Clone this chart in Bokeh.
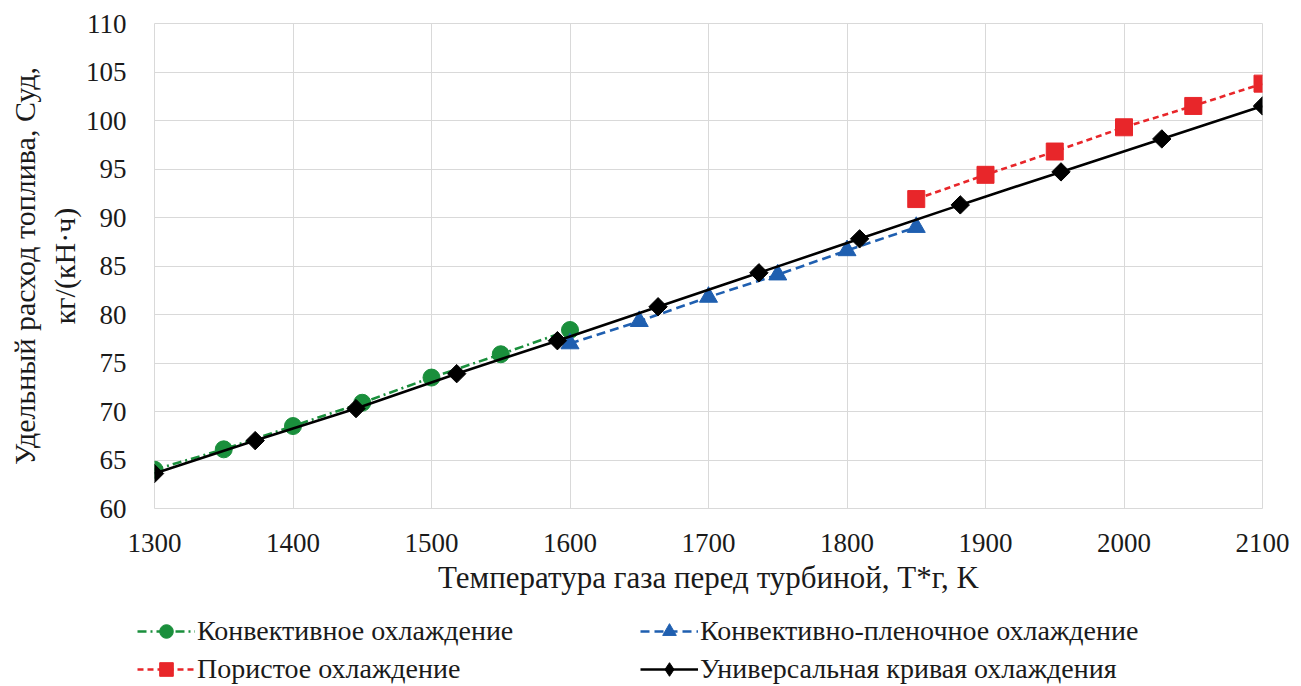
from bokeh.plotting import figure
from bokeh.models import Legend, LegendItem, FixedTicker, Range1d
from bokeh.layouts import column
from bokeh.embed import file_html
from bokeh.resources import INLINE
import math

# Data
conv_x = [1300, 1350, 1400, 1450, 1500, 1550, 1600]
conv_y = [64.0, 66.1, 68.5, 70.9, 73.5, 75.9, 78.4]

film_x = [1600, 1650, 1700, 1750, 1800, 1850]
film_y = [77.0, 79.3, 81.8, 84.1, 86.6, 89.0]

por_x = [1850, 1900, 1950, 2000, 2050, 2100]
por_y = [91.9, 94.4, 96.8, 99.3, 101.5, 103.8]

univ_x = [1300, 1372.7, 1445.5, 1518.2, 1590.9, 1663.6, 1736.4, 1809.1, 1881.8, 1954.5, 2027.3, 2100]
univ_y = [63.6, 67.0, 70.3, 73.9, 77.3, 80.8, 84.3, 87.8, 91.3, 94.7, 98.1, 101.5]

x_ticks = [1300, 1400, 1500, 1600, 1700, 1800, 1900, 2000, 2100]
y_ticks = [60, 65, 70, 75, 80, 85, 90, 95, 100, 105, 110]

labels = ["Конвективное охлаждение", "Конвективно-пленочное охлаждение",
          "Пористое охлаждение", "Универсальная кривая охлаждения"]
x_title = "Температура газа перед турбиной, T*г, K"
y_title1 = "Удельный расход топлива, Суд,"
y_title2 = "кг/(кН·ч)"

FONT = "Liberation Serif"
TXT = "#1a1a1a"

green = "#1a8f3c"
blue = "#1f5fb0"
red = "#e8262a"

styles = [
    dict(color=green, dash="9 4 2 4", marker="circle", size=17, angle=0.0, lmarker="circle", lsize=15),
    dict(color=blue, dash="9 5", marker="triangle", size=18, angle=0.0, lmarker="triangle", lsize=16),
    dict(color=red, dash="6 4", marker="square", size=17, angle=0.0, lmarker="square", lsize=15),
    dict(color="black", dash="solid", marker="square", size=13, angle=math.pi / 4,
         lmarker="diamond", lsize=18),
]
series = [(conv_x, conv_y), (film_x, film_y), (por_x, por_y), (univ_x, univ_y)]

# ---- main chart ----
p = figure(width=1301, height=600, output_backend="svg", toolbar_location=None,
           x_range=Range1d(1300, 2100), y_range=Range1d(60, 110),
           min_border_left=154, min_border_right=39, min_border_top=23, min_border_bottom=92)
p.frame_align = False
p.outline_line_color = "#d9d9d9"
p.background_fill_color = "white"
p.border_fill_color = "white"

for ax in (p.xaxis, p.yaxis):
    ax.axis_line_color = None
    ax.major_tick_line_color = None
    ax.minor_tick_line_color = None
    ax.major_label_text_font = FONT
    ax.major_label_text_font_size = "27px"
    ax.major_label_text_color = TXT
    ax.axis_label_text_font = FONT
    ax.axis_label_text_font_style = "normal"
    ax.axis_label_text_color = TXT
p.xaxis.ticker = FixedTicker(ticks=x_ticks)
p.yaxis.ticker = FixedTicker(ticks=y_ticks)
p.xaxis.major_label_standoff = 19
p.yaxis.major_label_standoff = 22
p.xaxis.axis_label = x_title
p.xaxis.axis_label_text_font_size = "31px"
p.xaxis.axis_label_standoff = 5
p.yaxis.axis_label = y_title1 + "\n" + y_title2
p.yaxis.axis_label_text_font_size = "30px"
p.yaxis.axis_label_standoff = 2

p.xgrid.grid_line_color = "#d9d9d9"
p.ygrid.grid_line_color = "#d9d9d9"
p.xgrid.ticker = FixedTicker(ticks=x_ticks)
p.ygrid.ticker = FixedTicker(ticks=y_ticks)

for (xs, ys), st in zip(series, styles):
    p.line(xs, ys, line_color=st["color"], line_width=2.6, line_dash=st["dash"])
    p.scatter(xs, ys, marker=st["marker"], size=st["size"], angle=st["angle"],
              fill_color=st["color"], line_color=st["color"])

# ---- legend strip (separate figure so the legend is not clipped) ----
lg = figure(width=1301, height=86, output_backend="svg", toolbar_location=None,
            x_range=Range1d(0, 1), y_range=Range1d(0, 1), min_border=0)
lg.frame_align = False
lg.axis.visible = False
lg.grid.visible = False
lg.outline_line_color = None
lg.background_fill_color = "white"
lg.border_fill_color = "white"

items = []
for lab, st, (xs, ys) in zip(labels, styles, series):
    # same series data; it lies outside this strip's ranges, so only the legend swatch shows
    rl = lg.line(xs, ys, line_color=st["color"], line_width=2.6, line_dash=st["dash"])
    rm = lg.scatter(xs, ys, marker=st["lmarker"], size=st["lsize"],
                    fill_color=st["color"], line_color=st["color"])
    items.append(LegendItem(label=lab, renderers=[rl, rm]))

# column-major fill: col 1 = items 0, 2 ; col 2 = items 1, 3
legend = Legend(items=[items[0], items[2], items[1], items[3]], ncols=2, location=(137, 0))
legend.label_text_font = FONT
legend.label_text_font_size = "28px"
legend.label_text_color = TXT
legend.glyph_width = 58
legend.label_standoff = 2
legend.label_width = 439
legend.spacing = 4
legend.border_line_color = None
legend.background_fill_alpha = 0
legend.margin = 0
legend.padding = 0
legend.label_height = 34
legend.glyph_height = 34
lg.add_layout(legend)

layout = column(p, lg, spacing=0)
open("out.html", "w").write(file_html(layout, INLINE))
